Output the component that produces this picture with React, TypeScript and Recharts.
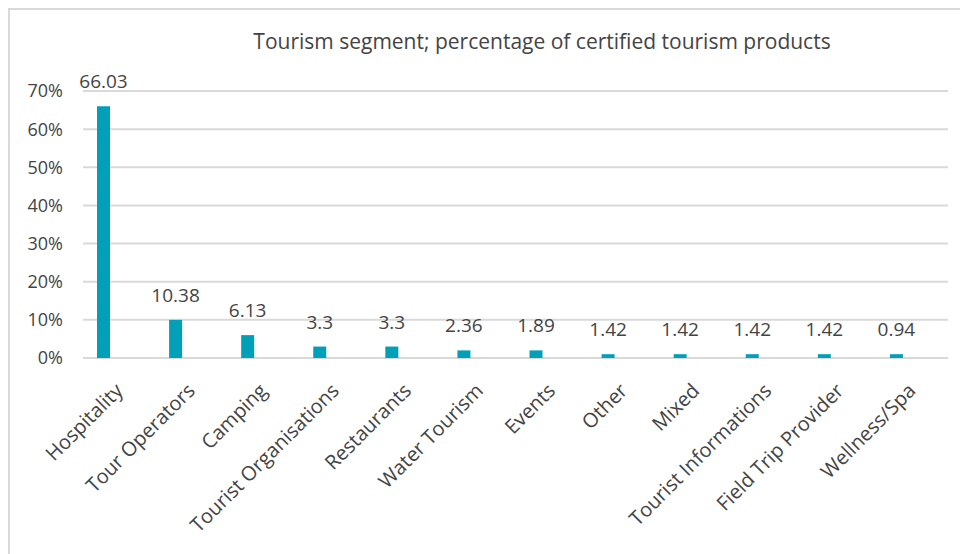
import React from "react";
import { BarChart, Bar, XAxis, YAxis, CartesianGrid, LabelList } from "recharts";

const categories = [
  "Hospitality",
  "Tour Operators",
  "Camping",
  "Tourist Organisations",
  "Restaurants",
  "Water Tourism",
  "Events",
  "Other",
  "Mixed",
  "Tourist Informations",
  "Field Trip Provider",
  "Wellness/Spa",
];

// bar heights as drawn (rounded percent) and the printed data labels
const barPercent = [66, 10, 6, 3, 3, 2, 2, 1, 1, 1, 1, 1];
const labelValues = [66.03, 10.38, 6.13, 3.3, 3.3, 2.36, 1.89, 1.42, 1.42, 1.42, 1.42, 0.94];

const yTicks = [0, 10, 20, 30, 40, 50, 60, 70];

const TEXT = "#444444";
const GRID = "#d9d9d9";
const BAR = "#00a0b8";
const FONT = "'Open Sans', sans-serif";

const data = categories.map((name, i) => ({
  name,
  share: barPercent[i],
  label: labelValues[i],
}));

const CategoryTick = (props: any) => {
  const { x, y, payload } = props;
  const tx = x + 5;
  const ty = y + 34;
  return (
    <text
      x={tx}
      y={ty}
      transform={`rotate(-45, ${tx}, ${ty})`}
      textAnchor="end"
      fontSize={20}
      fontFamily={FONT}
      fill={TEXT}
    >
      {payload.value}
    </text>
  );
};

const ValueLabel = (props: any) => {
  const { x, y, width, value } = props;
  return (
    <text
      x={x + width / 2}
      y={y - 18}
      textAnchor="middle"
      fontSize={19}
      fontFamily={FONT}
      fill={TEXT}
    >
      {String(value)}
    </text>
  );
};

export default function App() {
  return (
    <div style={{ position: "relative", width: 960, height: 546, fontFamily: FONT }}>
      <div
        style={{
          position: "absolute",
          left: 0,
          top: 0,
          width: 960,
          height: 546,
          borderTop: `2px solid ${GRID}`,
          borderLeft: `2px solid ${GRID}`,
          boxSizing: "border-box",
        }}
      />
      <div
        style={{
          position: "absolute",
          left: 134,
          top: 23,
          width: 800,
          textAlign: "center",
          fontSize: 21,
          lineHeight: 1,
          color: TEXT,
          whiteSpace: "nowrap",
        }}
      >
        Tourism segment; percentage of certified tourism products
      </div>
      <div style={{ position: "absolute", left: 0, top: 0 }}>
        <BarChart
          width={960}
          height={546}
          data={data}
          margin={{ top: 83, right: 20, bottom: 0, left: 0 }}
          barSize={13}
          barGap={18}
        >
          <CartesianGrid vertical={false} stroke={GRID} strokeWidth={2} />
          <XAxis
            dataKey="name"
            axisLine={false}
            tickLine={false}
            tickSize={0}
            tickMargin={0}
            interval={0}
            height={196}
            tick={<CategoryTick />}
          />
          <YAxis
            domain={[0, 70]}
            ticks={yTicks}
            width={75}
            axisLine={false}
            tickLine={false}
            tickSize={0}
            tickMargin={20}
            tickFormatter={(v) => `${v}%`}
            tick={{ fontSize: 18, fill: TEXT, fontFamily: FONT }}
          />
          <Bar dataKey="share" fill={BAR} isAnimationActive={false}>
            <LabelList dataKey="label" content={<ValueLabel />} />
          </Bar>
          {/* empty second series, keeps the Excel cluster spacing */}
          <Bar dataKey="secondSeries" fill={BAR} isAnimationActive={false} />
        </BarChart>
      </div>
    </div>
  );
}
